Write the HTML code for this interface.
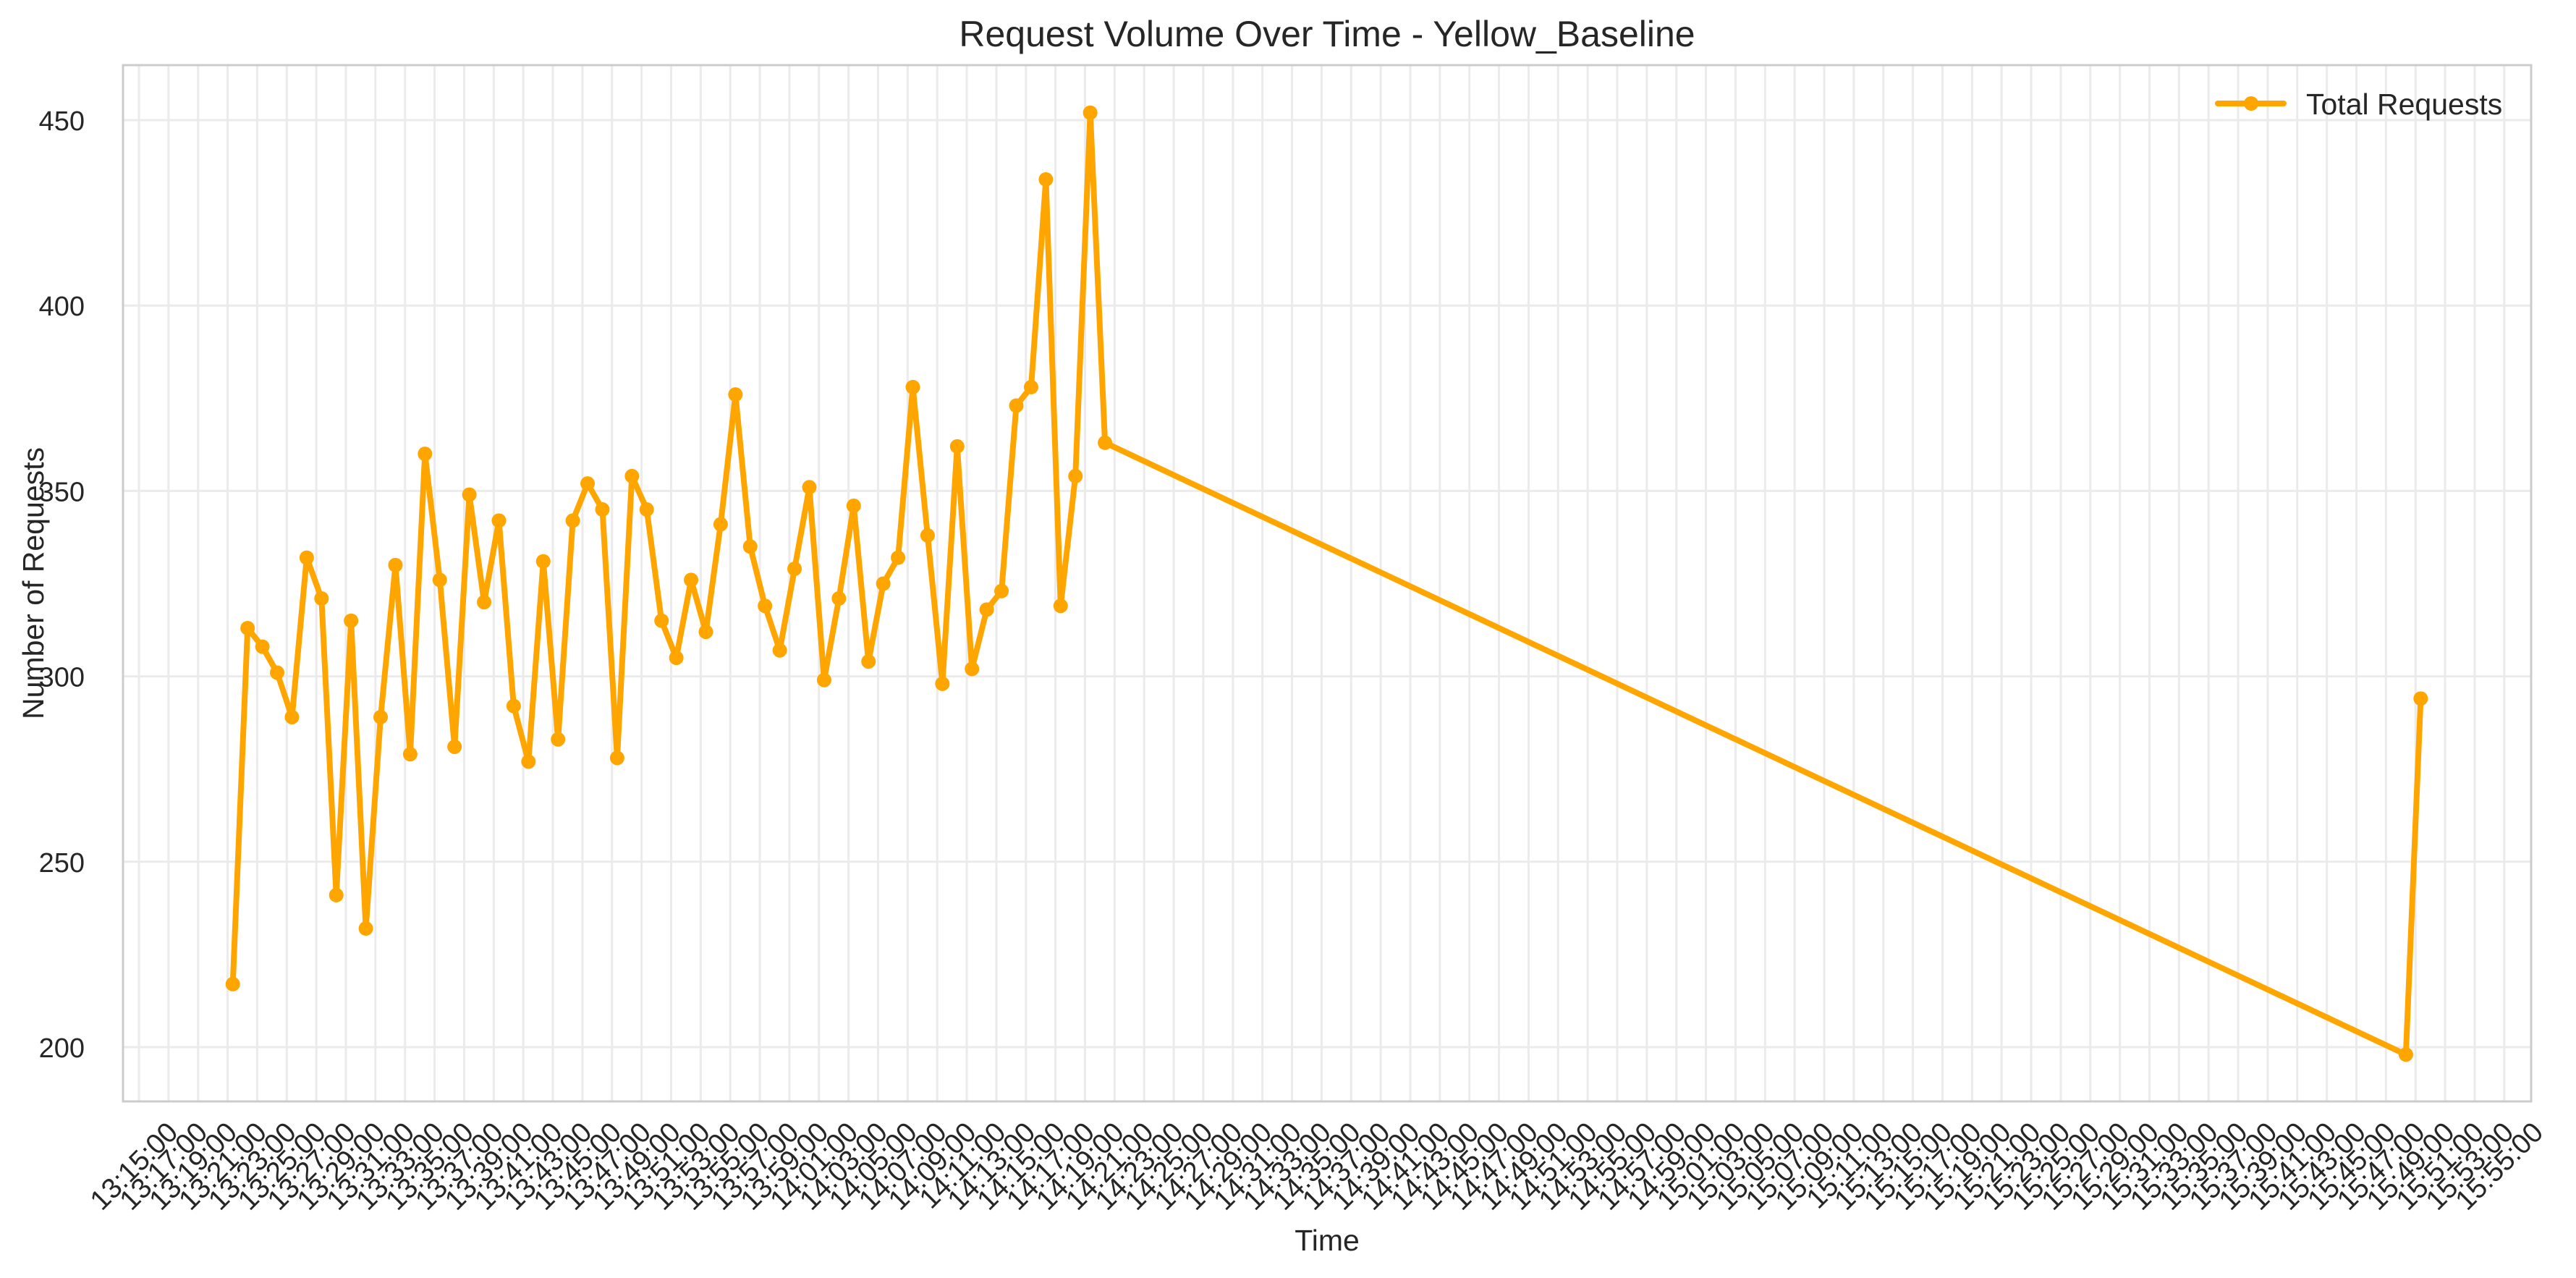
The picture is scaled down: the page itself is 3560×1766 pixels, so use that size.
<!DOCTYPE html>
<html><head><meta charset="utf-8"><title>Request Volume Over Time</title>
<style>html,body{margin:0;padding:0;background:#fff}svg{display:block;font-family:"Liberation Sans",sans-serif}</style>
</head><body>
<svg id="chart" width="3560" height="1766" viewBox="0 0 3560 1766" xmlns="http://www.w3.org/2000/svg">
<rect x="0" y="0" width="3560" height="1766" fill="#fff"/>
<g id="grid"></g>
<g id="xticks"></g>
<g id="yticks"></g>
<g id="series"></g>
<rect x="170" y="90" width="3328" height="1432" fill="none" stroke="#cccccc" stroke-width="3"/>
<text x="1834" y="64" text-anchor="middle" font-size="50" fill="#262626">Request Volume Over Time - Yellow_Baseline</text>
<text x="1834" y="1728" text-anchor="middle" font-size="41" fill="#262626">Time</text>
<text transform="translate(60,806) rotate(-90)" text-anchor="middle" font-size="41" fill="#262626">Number of Requests</text>
<g>
<line x1="3065" y1="143" x2="3156" y2="143" stroke="#FFA500" stroke-width="8" stroke-linecap="round"/>
<circle cx="3111" cy="143" r="10" fill="#FFA500"/>
<text x="3187" y="158" font-size="41" fill="#262626">Total Requests</text>
</g>
</svg>
<script>
// minutes after 13:15:00
const minutes = [6.35,7.35,8.35,9.35,10.35,11.35,12.35,13.35,14.35,15.35,16.35,17.35,18.35,19.35,20.35,21.35,22.35,23.35,24.35,25.35,26.35,27.35,28.35,29.35,30.35,31.35,32.35,33.35,34.35,35.35,36.35,37.35,38.35,39.35,40.35,41.35,42.35,43.35,44.35,45.35,46.35,47.35,48.35,49.35,50.35,51.35,52.35,53.35,54.35,55.35,56.35,57.35,58.35,59.35,60.35,61.35,62.35,63.35,64.35,65.35,153.35,154.35];
const requests = [217,313,308,301,289,332,321,241,315,232,289,330,279,360,326,281,349,320,342,292,277,331,283,342,352,345,278,354,345,315,305,326,312,341,376,335,319,307,329,351,299,321,346,304,325,332,378,338,298,362,302,318,323,373,378,434,319,354,452,363,198,294];
const yTicks = [200,250,300,350,400,450];
const xTickMinutes = [];
for (let m = 0; m <= 160; m += 2) xTickMinutes.push(m);

const NS = "http://www.w3.org/2000/svg";
const X0 = 192, PXMIN = 20.43;
function xs(m){ return X0 + m * PXMIN; }
function ys(v){ return 1447 - (v - 200) * 5.124; }
function lbl(m){ const t = 13*60 + 15 + m; const h = Math.floor(t/60), mm = t % 60; return h + ":" + String(mm).padStart(2,"0") + ":00"; }
function mk(tag, attrs){ const e = document.createElementNS(NS, tag); for (const k in attrs) e.setAttribute(k, attrs[k]); return e; }

const grid = document.getElementById("grid");
const xt = document.getElementById("xticks");
const yt = document.getElementById("yticks");
const ser = document.getElementById("series");

xTickMinutes.forEach(m => {
  const x = xs(m);
  const g = mk("line", {x1:x, y1:90, x2:x, y2:1522, stroke:"#ebebeb", "stroke-width":3});
  
  
  grid.appendChild(g);
  const t = mk("text", {"text-anchor":"end", "font-size":39, fill:"#262626", transform:"translate(" + (x+56) + ",1567) rotate(-45)"});
  t.textContent = lbl(m);
  
  
  xt.appendChild(t);
});
yTicks.forEach(v => {
  const y = ys(v);
  const g = mk("line", {x1:170, y1:y, x2:3498, y2:y, stroke:"#ebebeb", "stroke-width":3});
  
  
  grid.appendChild(g);
  const t = mk("text", {x:117, y:y+14, "text-anchor":"end", "font-size":38, fill:"#262626"});
  t.textContent = String(v);
  
  
  yt.appendChild(t);
});
const pts = minutes.map((m,i) => xs(m).toFixed(1) + "," + ys(requests[i]).toFixed(1)).join(" ");
const pl = mk("polyline", {points:pts, fill:"none", stroke:"#FFA500", "stroke-width":8, "stroke-linejoin":"round", "stroke-linecap":"round"});


ser.appendChild(pl);
minutes.forEach((m,i) => {
  const c = mk("circle", {cx:xs(m), cy:ys(requests[i]), r:10, fill:"#FFA500"});
  
  
  ser.appendChild(c);
});
</script>
</body></html>
